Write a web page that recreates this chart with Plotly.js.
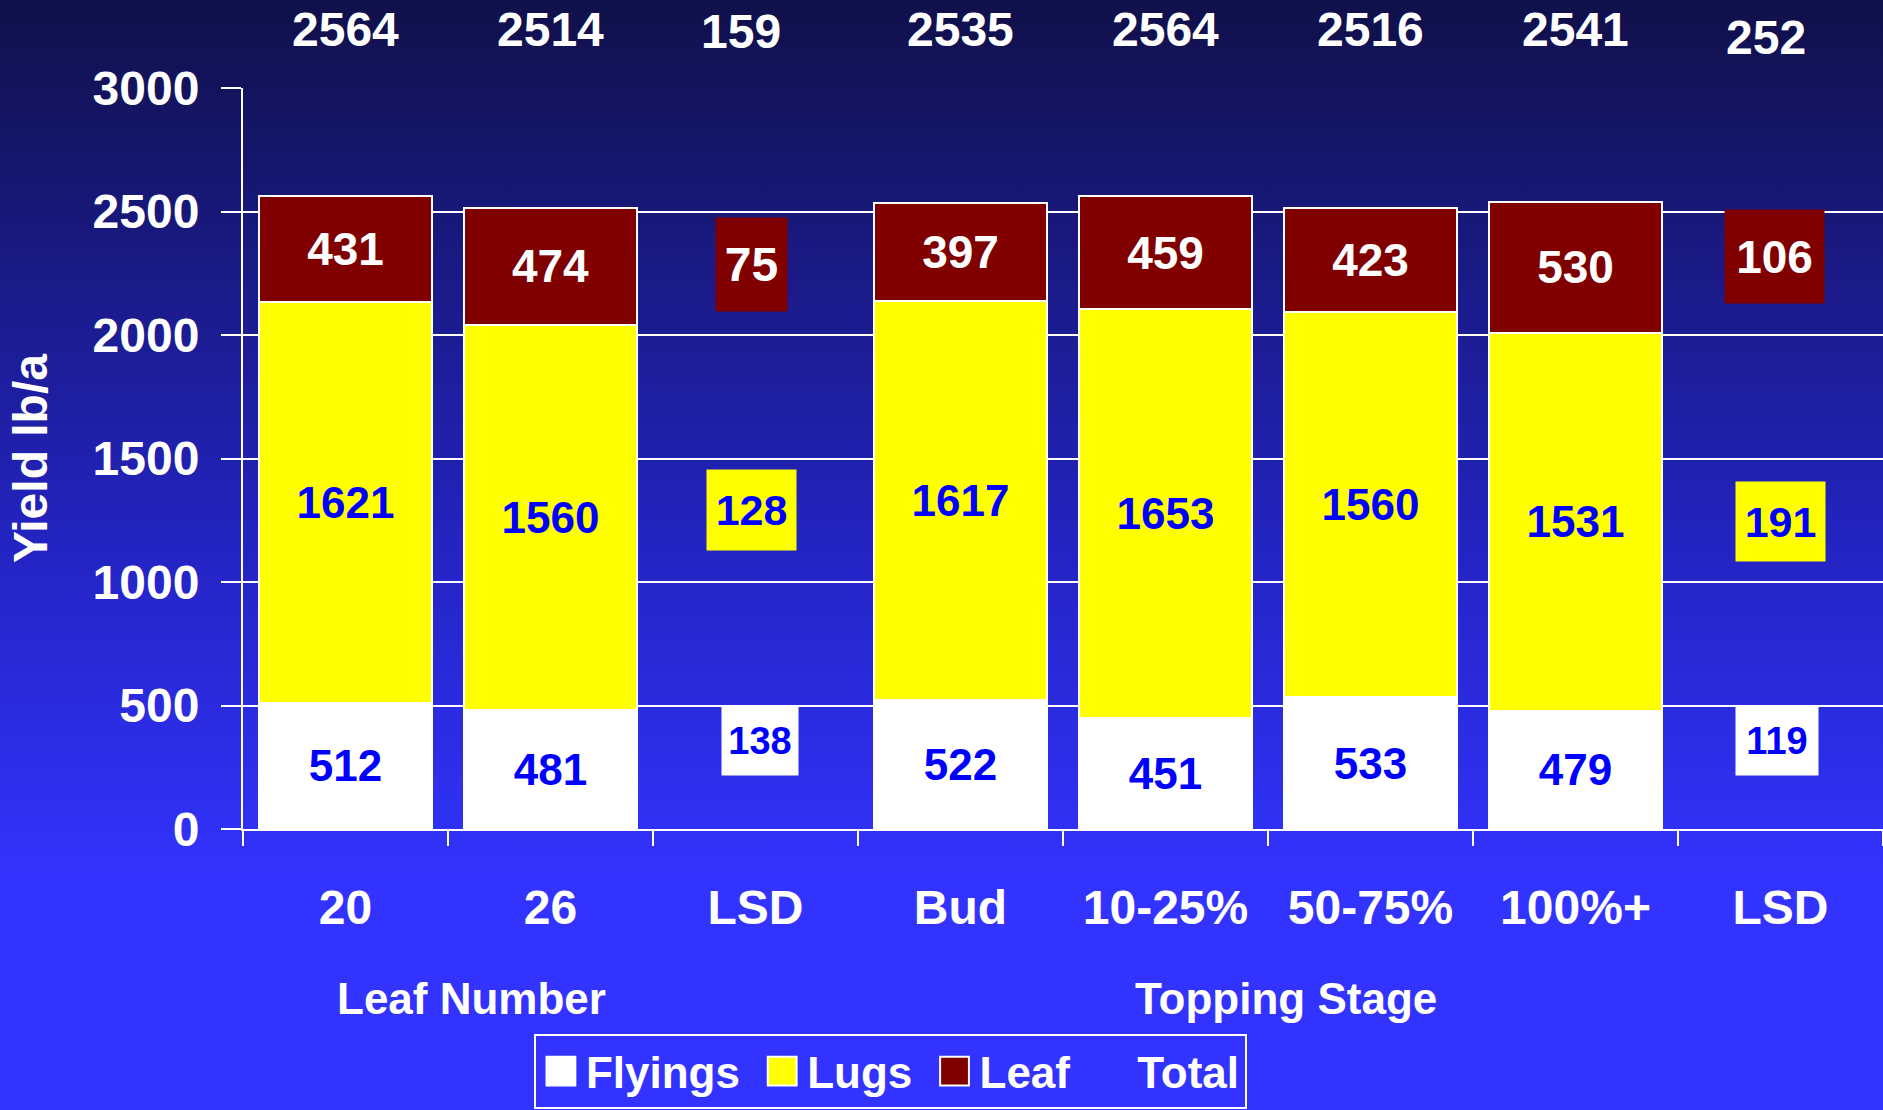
<!DOCTYPE html>
<html>
<head>
<meta charset="utf-8">
<script src="https://cdn.plot.ly/plotly-3.0.1.min.js"></script>
<style>
  html, body { margin: 0; padding: 0; overflow: hidden; }
  body { width: 1883px; height: 1110px;
         background: linear-gradient(to bottom, #10104a 0%, #2424c4 50%, #3333ff 80%, #3333ff 100%); }
  #chart { width: 1883px; height: 1110px; }
</style>
</head>
<body>
<div id="chart"></div>
<script>
// ---- data ----
const categoryIds   = ['20', '26', 'LSD-leaf', 'Bud', '10-25%', '50-75%', '100%+', 'LSD-top'];
const categoryLabels = ['20', '26', 'LSD', 'Bud', '10-25%', '50-75%', '100%+', 'LSD'];
const flyings = [512, 481, null, 522, 451, 533, 479, null];
const lugs    = [1621, 1560, null, 1617, 1653, 1560, 1531, null];
const leaf    = [431, 474, null, 397, 459, 423, 530, null];
const totals  = [2564, 2514, 159, 2535, 2564, 2516, 2541, 252];
const lsdCategories = ['LSD-leaf', 'LSD-top'];
const lsdFlyings = [138, 119];
const lsdLugs    = [128, 191];
const lsdLeaf    = [75, 106];
const groupLabels = ['Leaf Number', 'Topping Stage'];
const seriesNames = ['Flyings', 'Lugs', 'Leaf', 'Total'];

// ---- styling ----
const FONT = 'Arial, "Liberation Sans", sans-serif';
const txt = v => v.map(x => x == null ? '' : String(x));
const NB = '\u00a0';

const barCommon = {
  type: 'bar', x: categoryIds, textposition: 'inside', insidetextanchor: 'middle',
  constraintext: 'none', hoverinfo: 'skip'
};

const traces = [
  Object.assign({}, barCommon, {
    name: seriesNames[0] + NB, y: flyings, text: txt(flyings),
    marker: { color: '#ffffff', line: { color: '#ffffff', width: 2 } },
    textfont: { family: FONT, size: 44, color: '#0000ff', weight: 'bold' }
  }),
  Object.assign({}, barCommon, {
    name: seriesNames[1] + NB, y: lugs, text: txt(lugs),
    marker: { color: '#ffff00', line: { color: '#ffffff', width: 2 } },
    textfont: { family: FONT, size: 44, color: '#0000ff', weight: 'bold' }
  }),
  Object.assign({}, barCommon, {
    name: seriesNames[2] + NB, y: leaf, text: txt(leaf),
    marker: { color: '#800000', line: { color: '#ffffff', width: 2 } },
    textfont: { family: FONT, size: 46, color: '#ffffff', weight: 'bold' }
  }),
  {
    type: 'scatter', mode: 'markers', name: seriesNames[3], x: categoryIds, y: totals,
    marker: { color: 'rgba(0,0,0,0)', size: 1 }, hoverinfo: 'skip'
  }
];

const annotations = [];
// totals above plot
categoryIds.forEach((c, i) => {
  const isLsd = c.startsWith('LSD');
  annotations.push({
    x: i, xref: 'x', y: isLsd ? (c === 'LSD-top' ? 1.068 : 1.076) : 1.079, yref: 'paper',
    text: String(totals[i]), showarrow: false, xanchor: 'center', yanchor: 'middle',
    xshift: isLsd ? -15 : 0,
    font: { family: FONT, size: 48, color: '#ffffff', weight: 'bold' }
  });
});
// LSD boxes
const lsdLeafY = [2286, 2319], lsdLugsY = [1291, 1246], lsdFlyY = [356, 356];
const lsdLeafBox = [[71, 93], [99, 93]], lsdLugsBox = [[89, 80], [89, 79]], lsdFlyBox = [[76, 68], [82, 68]];
const lsdShift = [[-4, -6], [-4, 0], [4, -4]];
lsdCategories.forEach((c, i) => {
  const xi = categoryIds.indexOf(c);
  annotations.push({
    x: xi, y: lsdLeafY[i], xref: 'x', yref: 'y', text: String(lsdLeaf[i]), showarrow: false,
    bgcolor: '#800000', width: lsdLeafBox[i][0], height: lsdLeafBox[i][1], borderpad: 0, xshift: lsdShift[0][i],
    font: { family: FONT, size: i === 0 ? 48 : 46, color: '#ffffff', weight: 'bold' }
  });
  annotations.push({
    x: xi, y: lsdLugsY[i], xref: 'x', yref: 'y', text: String(lsdLugs[i]), showarrow: false,
    bgcolor: '#ffff00', width: lsdLugsBox[i][0], height: lsdLugsBox[i][1], borderpad: 0, xshift: lsdShift[1][i],
    font: { family: FONT, size: 43, color: '#0000ff', weight: 'bold' }
  });
  annotations.push({
    x: xi, y: lsdFlyY[i], xref: 'x', yref: 'y', text: String(lsdFlyings[i]), showarrow: false,
    bgcolor: '#ffffff', width: lsdFlyBox[i][0], height: lsdFlyBox[i][1], borderpad: 0, xshift: lsdShift[2][i],
    font: { family: FONT, size: 38, color: '#0000ff', weight: 'bold' }
  });
});
// group labels
annotations.push({ x: 0.1396, y: -0.2293, xref: 'paper', yref: 'paper', xanchor: 'center', yanchor: 'middle',
  text: groupLabels[0], showarrow: false,
  font: { family: FONT, size: 44, color: '#ffffff', weight: 'bold' } });
annotations.push({ x: 0.636, y: -0.2293, xref: 'paper', yref: 'paper', xanchor: 'center', yanchor: 'middle',
  text: groupLabels[1], showarrow: false,
  font: { family: FONT, size: 44, color: '#ffffff', weight: 'bold' } });

const layout = {
  width: 1883, height: 1110,
  margin: { l: 243, r: 0, t: 88, b: 281 },
  paper_bgcolor: 'rgba(0,0,0,0)', plot_bgcolor: 'rgba(0,0,0,0)',
  barmode: 'stack', bargap: 0.16,
  showlegend: true,
  font: { family: FONT, color: '#ffffff' },
  xaxis: {
    type: 'category', categoryorder: 'array', categoryarray: categoryIds,
    tickvals: categoryIds, ticktext: categoryLabels,
    tickson: 'boundaries', ticks: 'outside', ticklen: 15, tickwidth: 2, tickcolor: '#ffffff',
    showline: true, linecolor: '#ffffff', linewidth: 2, showgrid: false,
    ticklabelstandoff: 35,
    tickfont: { family: FONT, size: 48, color: '#ffffff', weight: 'bold' },
    range: [-0.5, 7.5], fixedrange: true
  },
  yaxis: {
    range: [0, 3000], tickvals: [0, 500, 1000, 1500, 2000, 2500, 3000],
    ticks: 'outside', ticklen: 20, tickwidth: 2, tickcolor: '#ffffff',
    showline: true, linecolor: '#ffffff', linewidth: 2,
    showgrid: true, gridcolor: '#ffffff', gridwidth: 2, zeroline: false,
    ticklabelstandoff: 12,
    tickfont: { family: FONT, size: 48, color: '#ffffff', weight: 'bold' },
    title: { text: 'Yield lb/a', standoff: 30, font: { family: FONT, size: 48, color: '#ffffff', weight: 'bold' } },
    fixedrange: true
  },
  legend: {
    orientation: 'h', x: 0.1774, xanchor: 'left', y: -0.378, yanchor: 'bottom',
    bgcolor: 'rgba(0,0,0,0)', bordercolor: '#ffffff', borderwidth: 2,
    itemwidth: 40,
    font: { family: FONT, size: 44, color: '#ffffff', weight: 'bold' },
    traceorder: 'normal', itemclick: false, itemdoubleclick: false
  },
  annotations: annotations
};

Plotly.newPlot('chart', traces, layout, { displayModeBar: false, staticPlot: true }).then(() => {
  document.querySelectorAll('.legend .legendpoints path').forEach(p => {
    const t = p.getAttribute('transform') || '';
    p.setAttribute('transform', t + ' scale(2.4)');
    p.style.vectorEffect = 'non-scaling-stroke';
  });
});
</script>
</body>
</html>
